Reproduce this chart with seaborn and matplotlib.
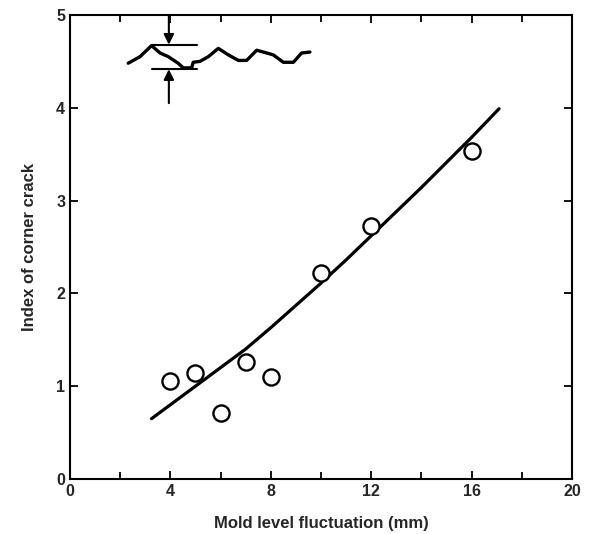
import numpy as np
import pandas as pd
import matplotlib
matplotlib.use("Agg")
import matplotlib.pyplot as plt
import seaborn as sns
from matplotlib.ticker import MultipleLocator

# ------------------------------
# data
# ------------------------------
fluct_mm = [4, 5, 6, 7, 8, 10, 12, 16]
crack_index = [1.06, 1.14, 0.71, 1.26, 1.10, 2.22, 2.73, 3.53]

curve_x = [3.25, 4, 5, 6, 7, 8, 9, 10, 11, 12, 13, 14, 15, 16, 17.1]
curve_y = [0.65, 0.80, 1.00, 1.20, 1.40, 1.63, 1.87, 2.11, 2.36, 2.62, 2.88, 3.14, 3.41, 3.68, 3.99]

# schematic of mold level wave (inset sketch)
wave_x = [2.32, 2.79, 3.25, 3.59, 3.92, 4.31, 4.51, 4.85, 4.91, 5.18, 5.51, 5.91,
          6.31, 6.71, 7.04, 7.44, 7.84, 8.10, 8.50, 8.90, 9.23, 9.56]
wave_y = [4.48, 4.55, 4.67, 4.59, 4.55, 4.48, 4.43, 4.43, 4.49, 4.50, 4.55, 4.64,
          4.57, 4.51, 4.51, 4.62, 4.59, 4.57, 4.49, 4.49, 4.59, 4.60]
level_top = 4.68
level_bot = 4.415
level_x = [3.25, 5.05]
arrow_x = 3.94

df_pts = pd.DataFrame({'x': fluct_mm, 'y': crack_index})
df_curve = pd.DataFrame({'x': curve_x, 'y': curve_y})

sns.set_style("ticks")
plt.rcParams['font.family'] = ['Liberation Sans', 'DejaVu Sans']

fig = plt.figure(figsize=(5.94, 5.34), dpi=100)
ax = fig.add_axes([0.1178, 0.103, 0.845, 0.869])

sns.lineplot(data=df_curve, x='x', y='y', ax=ax, color='black', lw=2.3, sort=True)
sns.scatterplot(data=df_pts, x='x', y='y', ax=ax, s=135, marker='o',
                facecolor='white', edgecolor='black', linewidth=1.7, zorder=3)

# inset sketch
ax.plot(wave_x, wave_y, color='black', lw=2.4, solid_joinstyle='round')
ax.plot(level_x, [level_top, level_top], color='black', lw=1.5)
ax.plot(level_x, [level_bot, level_bot], color='black', lw=1.5)
ax.annotate('', xy=(arrow_x, level_top), xytext=(arrow_x, 5.0),
            arrowprops=dict(arrowstyle='-|>', color='black', lw=1.5, mutation_scale=15,
                            shrinkA=0, shrinkB=0))
ax.annotate('', xy=(arrow_x, level_bot), xytext=(arrow_x, 4.05),
            arrowprops=dict(arrowstyle='-|>', color='black', lw=1.5, mutation_scale=15,
                            shrinkA=0, shrinkB=0))

ax.set_xlim(0, 20)
ax.set_ylim(0, 5)
ax.xaxis.set_major_locator(MultipleLocator(4))
ax.xaxis.set_minor_locator(MultipleLocator(2))
ax.yaxis.set_major_locator(MultipleLocator(1))
ax.tick_params(which='both', direction='in', top=True, right=True, width=1.3,
               color='black')
ax.tick_params(which='major', length=6)
ax.tick_params(which='minor', length=5)
for lab in ax.get_xticklabels() + ax.get_yticklabels():
    lab.set_fontweight('bold')
    lab.set_fontsize(11.5)
for sp in ax.spines.values():
    sp.set_linewidth(1.5)
    sp.set_color('black')

ax.set_xlabel('Mold level fluctuation (mm)', fontsize=12, fontweight='bold', labelpad=12)
ax.set_ylabel('Index of corner crack', fontsize=12, fontweight='bold', labelpad=14)

fig.savefig('out.png', dpi=100)
plt.close(fig)
